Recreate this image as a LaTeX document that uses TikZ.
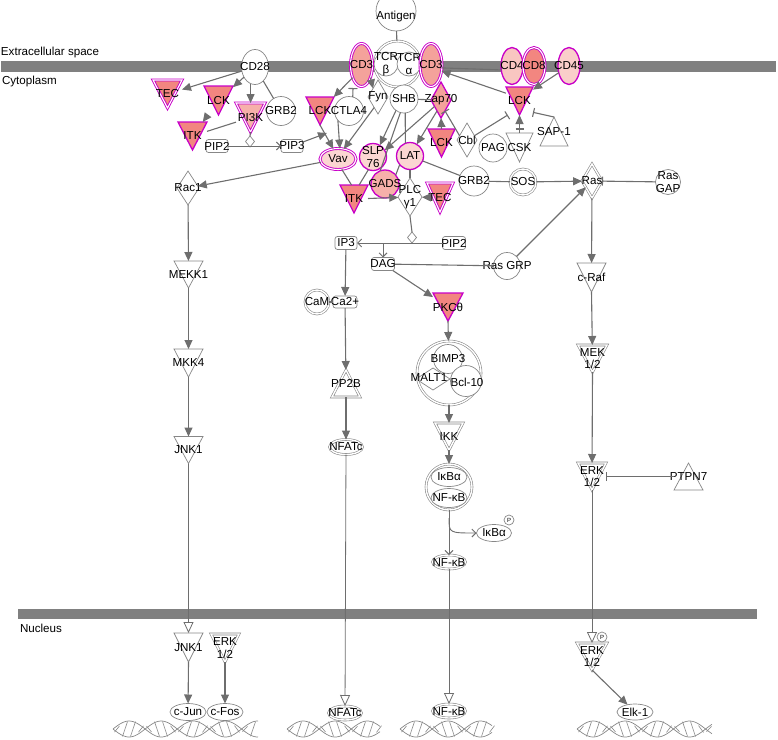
\documentclass[tikz,border=0pt]{standalone}
\usepackage{fontspec}
\setmainfont{Liberation Sans}
\usetikzlibrary{shapes.geometric,arrows.meta,calc}
\pgfdeclarelayer{bg}
\pgfsetlayers{bg,main}
\definecolor{edgec}{RGB}{110,110,110}
\definecolor{outl}{RGB}{135,135,135}
\definecolor{memb}{RGB}{128,128,128}
\definecolor{mag}{RGB}{200,0,200}
\definecolor{salm}{RGB}{242,134,128}
\definecolor{salm2}{RGB}{244,162,155}
\definecolor{pinkl}{RGB}{251,214,210}
\definecolor{pinkm}{RGB}{246,176,170}
\newcommand\tridn[2]{\path[#2] (#1.north west) -- (#1.north east) -- (#1.south) -- cycle;}
\newcommand\triup[2]{\path[#2] (#1.south west) -- (#1.south east) -- (#1.north) -- cycle;}
\newcommand\dnahelix[2]{%
  \draw[outl, line width=0.7pt] plot[domain=#1:#2, samples=80, smooth] (\x, {729+8*sin((\x-#1)*5.6)});
  \draw[outl, line width=0.7pt] plot[domain=#1:#2, samples=80, smooth] (\x, {729-8*sin((\x-#1)*5.6)});
  \foreach \xx in {#1,...,#2}{%
    \pgfmathsetmacro\ph{mod(\xx-#1,8)}%
    \ifdim\ph pt=4pt
      \draw[outl, line width=0.6pt] (\xx-2.5, {729+8*sin((\xx-#1)*5.6)}) -- (\xx+2.5, {729-8*sin((\xx-#1)*5.6)});
    \fi}%
}
\begin{document}
\begin{tikzpicture}[x=1pt,y=-1pt,
  every node/.style={font=\fontsize{11.6}{12.5}\selectfont, inner sep=0pt, outer sep=0pt},
  G/.style={draw=outl, line width=0.7pt, fill=white},
  GD/.style={draw=outl, line width=0.6pt, double=white, double distance=1.4pt, fill=white},
  M/.style={draw=mag, line width=1.3pt},
  MD/.style={draw=mag, line width=0.9pt, double=white, double distance=1.1pt},
  E/.style 2 args={ellipse, minimum width=#1, minimum height=#2},
  D/.style 2 args={diamond, minimum width=#1, minimum height=#2},
  R/.style 2 args={rectangle, minimum width=#1, minimum height=#2},
  rr/.style={G, rectangle, rounded corners=2.5pt, minimum width=22, minimum height=13},
  arr/.style={draw=edgec, line width=1.1pt, -{Triangle[length=9pt,width=8pt]}},
  ln/.style={draw=edgec, line width=1.1pt},
  inh/.style={draw=edgec, line width=1.1pt, -{Bar[width=9pt,line width=1.1pt]}},
  thinar/.style={draw=edgec, line width=0.9pt, -{Straight Barb[length=4pt,width=8pt]}},
  opn/.style={draw=edgec, line width=0.8pt, -{Triangle[open,length=11pt,width=10pt,fill=white]}},
  lab/.style={label={center:#1}},
  lab2/.style={label={[align=center]center:#1}}
]
\useasboundingbox (0,0) rectangle (778,739);
\begin{scope}
\clip (0,0) rectangle (778,739);
% membranes
\fill[memb] (1,61) rectangle (776,72);
\fill[memb] (18,609) rectangle (757,619);
\node[anchor=west] (txtext) at (1,52) {Extracellular space};
\node[anchor=west] (txtcyt) at (2,81) {Cytoplasm};
\node[anchor=west] (txtnuc) at (20,628) {Nucleus};

% ---------- ellipses / circles
\node[G, E={40}{40}, label={[yshift=-5pt]center:Antigen}] (ant) at (396,11) {};
\node[GD, circle, minimum size=46] (tcr) at (397.5,64) {};
\node[G, circle, minimum size=24, lab2={TCR\\β}] (tcrb) at (386,64) {};
\node[G, circle, minimum size=24, lab2={TCR\\α}] (tcra) at (409,64) {};
\node[MD, fill=salm2, E={22}{43}, lab=CD3] (cd3a) at (361.5,65) {};
\node[MD, fill=salm2, E={22}{43}, lab=CD3] (cd3b) at (431,65) {};
\node[M, fill=pinkl!70!salm2, E={22}{37}, lab=CD4] (cd4) at (512,66) {};
\node[MD, fill=salm, E={22}{37}, lab=CD8] (cd8) at (534,66) {};
\node[M, fill=pinkl!85!salm2, E={22}{37}, lab=CD45] (cd45) at (569,66) {};
\node[G, E={27}{35}, lab=CD28] (cd28) at (255,67) {};
\node[G, circle, minimum size=29, lab=GRB2] (grb2a) at (281,111) {};
\node[G, circle, minimum size=29, lab=CTLA4] (ctla4) at (349,111) {};
\node[G, circle, minimum size=28, lab=SHB] (shb) at (404,99) {};
\node[G, circle, minimum size=28, lab=PAG] (pag) at (493,148) {};
\node[G, circle, minimum size=30, lab=GRB2] (grb2b) at (474,181) {};
\node[GD, circle, minimum size=26, lab=SOS] (sos) at (523,182) {};
\node[G, circle, minimum size=25, lab2={Ras\\GAP}] (rasgap) at (668,182) {};
\node[G, circle, minimum size=27, lab=Ras GRP] (rasgrp) at (507,266) {};
\node[GD, circle, minimum size=24, lab=CaM] (cam) at (317,302) {};
\node[MD, fill=pinkl, E={36}{21}, lab=Vav] (vav) at (338,159) {};
\node[M, fill=pinkl, circle, minimum size=27, lab2={SLP\\76}] (slp76) at (373,157) {};
\node[M, fill=pinkl, circle, minimum size=27, lab=LAT] (lat) at (410,156) {};
\node[M, fill=pinkm, circle, minimum size=28, lab=GADS] (gads) at (385,184) {};
\node[G, E={35}{17}, lab=IκBα] (ikbp) at (494,533) {};
\node[G, circle, minimum size=10, label={center:\fontsize{6}{6}\selectfont P}] (p1) at (509,520) {};
\node[GD, E={33}{14}, lab=NF-κB] (nfkb1) at (449,562) {};
\node[GD, E={33}{14}, lab=NF-κB] (nfkb2) at (449,711) {};
\node[GD, E={33}{15}, lab=NFATc] (nfat1) at (346,447) {};
\node[GD, E={33}{14}, lab=NFATc] (nfat2) at (345,713) {};
\node[G, E={36}{17}, lab=c-Jun] (cjun) at (188,712) {};
\node[G, E={36}{17}, lab=c-Fos] (cfos) at (225,712) {};
\node[G, E={36}{16}, lab=Elk-1] (elk1) at (635,712) {};
% complexes
\node[GD, circle, minimum size=64] (cplx) at (449,373) {};
\node[G, circle, minimum size=29] (bimp) at (448,359) {};
\node[G, D={34}{22}] (malt) at (433,379) {};
\node[G, circle, minimum size=31] (bcl) at (466,381) {};
\node (bimpL) at (448,358) {BIMP3};
\node (maltL) at (429,378) {MALT1};
\node (bclL) at (467,382) {Bcl-10};
\node[GD, circle, minimum size=46] (ikc) at (449,487) {};
\node[G, E={36}{19}, lab=IκBα] (ikba) at (449,477) {};
\node[G, E={36}{19}, lab=NF-κB] (nfkbc) at (449,498) {};

% ---------- rounded rects
\node[rr, lab=PIP2] (pip2a) at (217,146) {};
\node[rr, lab=PIP3] (pip3) at (292,146) {};
\node[rr, lab=IP3] (ip3) at (346,243) {};
\node[rr, lab=PIP2, minimum width=23] (pip2b) at (454,243) {};
\node[rr, lab=DAG, minimum width=23] (dag) at (383,264) {};
\node[rr, lab=Ca2+, minimum width=24, minimum height=12] (ca2) at (345,302) {};

% ---------- diamonds
\node[G, D={20}{34}, lab=Fyn] (fyn) at (378,97) {};
\node[M, fill=salm2, D={20}{36}, lab=Zap70] (zap) at (441,100) {};
\node[G, D={20}{34}, lab=Cbl] (cbl) at (467,140) {};
\node[G, D={22}{34}, lab=Rac1] (rac1) at (188,188) {};
\node[G, D={24}{38}, lab2={PLC\\γ1}] (plc) at (410,197) {};
\node[GD, D={20}{34}, lab=Ras] (ras) at (592,181) {};
\node[G, D={9}{11}] (sd1) at (250,141.5) {};
\node[G, D={9}{11}] (sd2) at (412,237.5) {};

% ---------- triangles (rect placeholders)
\node[R={29}{28}, lab=TEC] (tec1) at (167.5,94) {};
\node[R={29}{29}, lab=LCK] (lck1) at (218.5,100.5) {};
\node[R={29}{29}, lab=PI3K] (pi3k) at (250.5,117.5) {};
\node[R={29}{28}, lab=ITK] (itk1) at (192.5,136) {};
\node[R={28}{28}, lab=LCK] (lck2) at (320,111) {};
\node[R={27}{28}, lab=LCK] (lck3) at (441.5,143) {};
\node[R={27}{28}, lab=LCK] (lck4) at (519.5,101) {};
\node[R={27}{29}, lab=CSK] (csk) at (519.5,147.5) {};
\node[R={28}{28}, lab=ITK] (itk2) at (354,199) {};
\node[R={26}{29}, lab=TEC] (tec2) at (440,197.5) {};
\node[R={30}{28}, lab=PKCθ] (pkc) at (448,307) {};
\node[R={28}{27}, lab=IKK] (ikk) at (449,436.5) {};
\node[R={29}{27}, lab=MEKK1] (mekk1) at (188.5,274.5) {};
\node[R={29}{28}, lab=MKK4] (mkk4) at (188.5,363) {};
\node[R={29}{27}, lab=JNK1] (jnk1a) at (188.5,450) {};
\node[R={29}{29}, lab=JNK1] (jnk1b) at (188.5,647.5) {};
\node[R={28}{28}, lab2={ERK\\1/2}] (erk1) at (225,648) {};
\node[R={29}{29}, lab=c-Raf] (craf) at (591.5,277.5) {};
\node[R={29}{27}, lab2={MEK\\1/2}] (mek) at (592.5,358.5) {};
\node[R={28}{27}, lab2={ERK\\1/2}] (erk2) at (592,476.5) {};
\node[R={30}{27}, lab2={ERK\\1/2}] (erk3) at (592,656.5) {};
\node[G, circle, minimum size=10, label={center:\fontsize{6}{6}\selectfont P}] (p2) at (602,637) {};
\node[R={28}{29}, lab=SAP-1] (sap1) at (554,131.5) {};
\node[R={29}{27}, lab=PTPN7] (ptpn7) at (688.5,476.5) {};
\node[R={28}{27}, lab=PP2B] (pp2b) at (346,383.5) {};

\begin{pgfonlayer}{bg}
\tridn{tec1}{MD, fill=salm}
\tridn{lck1}{M, fill=salm}
\tridn{pi3k}{MD, fill=pinkm}
\tridn{itk1}{M, fill=salm}
\tridn{lck2}{M, fill=salm}
\tridn{lck3}{M, fill=salm}
\tridn{lck4}{M, fill=salm}
\tridn{csk}{G}
\tridn{itk2}{M, fill=salm}
\tridn{tec2}{MD, fill=salm}
\tridn{pkc}{M, fill=salm}
\tridn{ikk}{GD}
\tridn{mekk1}{G}
\tridn{mkk4}{G}
\tridn{jnk1a}{G}
\tridn{jnk1b}{G}
\tridn{erk1}{GD}
\tridn{craf}{G}
\tridn{mek}{GD}
\tridn{erk2}{GD}
\tridn{erk3}{GD}
\triup{sap1}{G}
\triup{ptpn7}{G}
\triup{pp2b}{GD}
\end{pgfonlayer}

% ---------- edges
\draw[ln] (ant) -- (tcr);
\draw[arr] (cd28) -- (tec1);
\draw[arr] (cd28) -- (lck1);
\draw[arr] (cd28.255) -- (cd28.255 |- pi3k.north);
\draw[ln] (cd28) -- (grb2a);
\draw[arr] (lck1) -- (itk1);
\draw[ln] (itk1) -- (pi3k);
\draw[ln] (pi3k.south) -- (sd1.north);
\draw[thinar] (pip2a) -- (pip3);
\coordinate (vavin) at (327,133);
\draw[arr] (pip3.20) -- (vavin);
\draw[arr] (cd3a.235) -- (lck2);
\draw[arr] (cd3a.305) -- (fyn.120);
\coordinate (ctlaT) at (353,88);
\draw[inh] (ctla4.75) -- (ctlaT);
\draw[arr] (lck2.south) -- (vav.115);
\draw[arr] (ctla4.220) -- (vav.80);
\draw[arr] (fyn.250) -- (vav.60);
\draw[arr] (shb.235) -- (slp76.60);
\draw[ln] (shb.255) -- (gads.110);
\draw[ln] (shb.275) -- (lat.110);
\draw[arr] (zap.225) -- (slp76.30);
\draw[arr] (zap.250) -- (lat.60);
\draw[ln] (shb) -- (zap);
\draw[arr] (lck3.north) -- (zap.south);
\draw[inh] (cbl.150) -- (zap.290);
\draw[inh] (cbl.30) -- (lck4.230);
\draw[inh] (sap1.north) -- (lck4.320);
\draw[arr] (csk.north) -- (lck4.south);
\draw[draw=edgec, line width=1.1pt] ($(csk.north)+(-4,-4)$) -- ($(csk.north)+(4,-4)$);
\draw[arr] (cd45) -- (lck4.40);
\draw[arr] (lck4.150) -- (cd3b.330);
\draw[ln] (cd4.200) -- (cd3b.345);
\draw[ln] (vav.290) -- (itk2.100);
\draw[ln] (slp76.250) -- (itk2.70);
\draw[ln] (lat.220) -- (gads.40);
\draw[ln] (lat.south) -- (plc.north);
\draw[arr] (itk2) -- (plc);
\draw[arr] (tec2) -- (plc);
\draw[ln] (lat) -- (grb2b);
\draw[ln] (grb2b) -- (sos);
\draw[arr] (sos) -- (ras);
\draw[inh] (rasgap) -- (ras);
\draw[arr] (rasgrp) -- (ras);
\draw[ln] (dag) -- (rasgrp);
\draw[ln] (plc.south) -- (sd2.north);
\draw[thinar] (pip2b) -- (ip3);
\coordinate (br) at (dag.north |- pip2b);
\draw[thinar] (br) -- (dag.north);
\draw[arr] (vav) -- (rac1);
\draw[arr] (rac1) -- (mekk1);
\draw[arr] (mekk1) -- (mkk4);
\draw[arr] (mkk4) -- (jnk1a);
\draw[opn] (jnk1a.south) -- (jnk1b.north);
\draw[arr] (jnk1b.south) -- (cjun);
\draw[arr] (erk1.south) -- (cfos);
\draw[arr] (ip3) -- (ca2);
\draw[ln] (cam) -- (ca2);
\draw[arr] (ca2) -- (pp2b);
\draw[arr] (pp2b) -- (nfat1);
\draw[opn] (nfat1) -- (nfat2);
\draw[arr] (dag) -- (pkc);
\draw[arr] (pkc.south) -- (cplx);
\draw[arr] (cplx) -- (ikk);
\draw[arr] (ikk.south) -- (ikc);
\draw[thinar] (ikc) -- (nfkb1);
\coordinate (cv) at (449,518);
\draw[thinar] (cv) .. controls (449,533) .. (ikbp.west);
\draw[opn] (nfkb1) -- (nfkb2);
\draw[arr] (ras) -- (craf);
\draw[arr] (craf.south) -- (mek);
\draw[arr] (mek.south) -- (erk2);
\draw[inh] (ptpn7) -- (erk2);
\draw[opn] (erk2.south) -- (erk3.north);
\draw[arr] (erk3.south) -- (elk1);

% DNA
\dnahelix{113}{258}
\dnahelix{287}{380}
\dnahelix{400}{492}
\dnahelix{577}{712}
\end{scope}
\end{tikzpicture}
\end{document}
